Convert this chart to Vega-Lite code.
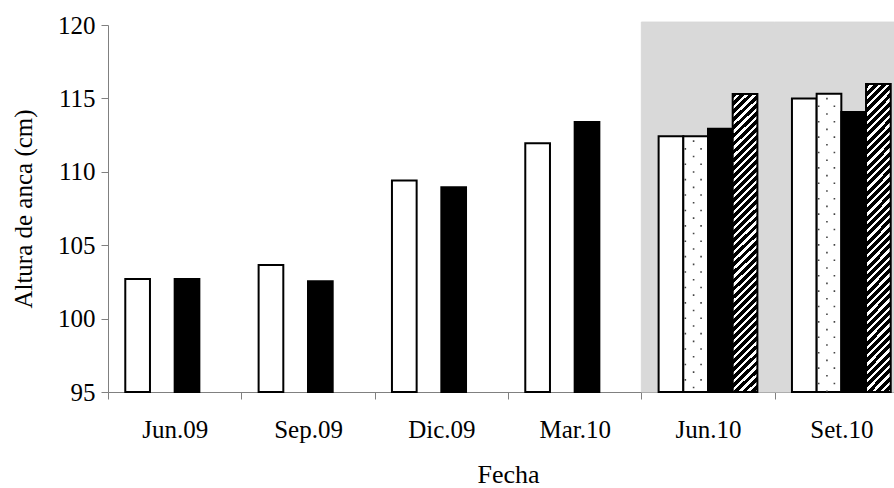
{
  "$schema": "https://vega.github.io/schema/vega-lite/v6.json",
  "width": 786,
  "height": 367,
  "autosize": {"type": "none"},
  "padding": {"left": 108, "top": 25, "right": 0, "bottom": 96},
  "background": "white",
  "config": {
    "view": {"stroke": null},
    "font": "Liberation Serif",
    "axis": {
      "labelFont": "Liberation Serif",
      "titleFont": "Liberation Serif",
      "labelColor": "#000",
      "titleColor": "#000",
      "titleFontWeight": "normal",
      "domainColor": "#808080",
      "tickColor": "#808080",
      "domainWidth": 1,
      "tickWidth": 1,
      "grid": false,
      "zindex": 1
    }
  },
  "datasets": {
    "altura": [
      {"fecha": "Jun.09", "serie": "Serie 1", "valor": 102.7},
      {"fecha": "Jun.09", "serie": "Serie 3", "valor": 102.7},
      {"fecha": "Sep.09", "serie": "Serie 1", "valor": 103.65},
      {"fecha": "Sep.09", "serie": "Serie 3", "valor": 102.55},
      {"fecha": "Dic.09", "serie": "Serie 1", "valor": 109.4},
      {"fecha": "Dic.09", "serie": "Serie 3", "valor": 108.95},
      {"fecha": "Mar.10", "serie": "Serie 1", "valor": 111.95},
      {"fecha": "Mar.10", "serie": "Serie 3", "valor": 113.4},
      {"fecha": "Jun.10", "serie": "Serie 1", "valor": 112.42},
      {"fecha": "Jun.10", "serie": "Serie 2", "valor": 112.42},
      {"fecha": "Jun.10", "serie": "Serie 3", "valor": 112.94},
      {"fecha": "Jun.10", "serie": "Serie 4", "valor": 115.3},
      {"fecha": "Set.10", "serie": "Serie 1", "valor": 115.0},
      {"fecha": "Set.10", "serie": "Serie 2", "valor": 115.32},
      {"fecha": "Set.10", "serie": "Serie 3", "valor": 114.08},
      {"fecha": "Set.10", "serie": "Serie 4", "valor": 115.98}
    ]
  },
  "data": {"name": "altura"},
  "encoding": {
    "x": {
      "field": "fecha",
      "type": "nominal",
      "sort": ["Jun.09", "Sep.09", "Dic.09", "Mar.10", "Jun.10", "Set.10"],
      "scale": {
        "domain": ["Jun.09", "Sep.09", "Dic.09", "Mar.10", "Jun.10", "Set.10"],
        "range": [0, 800],
        "paddingInner": 0,
        "paddingOuter": 0
      },
      "axis": {
        "title": "Fecha",
        "tickBand": "extent",
        "tickSize": 7,
        "labelPadding": 18,
        "labelAngle": 0,
        "labelFontSize": 25,
        "labelOverlap": false,
        "titleFontSize": 26,
        "titleX": 400,
        "titleY": 90,
        "titleAlign": "center",
        "titleBaseline": "alphabetic"
      }
    },
    "y": {
      "field": "valor",
      "type": "quantitative",
      "scale": {"domain": [95, 120], "nice": false, "zero": false},
      "axis": {
        "title": "Altura de anca (cm)",
        "values": [95, 100, 105, 110, 115, 120],
        "tickSize": 7,
        "labelPadding": 6,
        "labelFontSize": 25,
        "titleFontSize": 25,
        "titleAngle": -90,
        "titleX": -77,
        "titleY": 183.5,
        "titleAlign": "center",
        "titleBaseline": "alphabetic"
      }
    }
  },
  "layer": [
    {
      "transform": [
        {"filter": "datum.serie === 'Serie 1' && (datum.fecha === 'Jun.10' || datum.fecha === 'Set.10')"}
      ],
      "mark": {"type": "bar", "fill": "#d9d9d9", "stroke": "#d9d9d9", "strokeWidth": 1},
      "encoding": {
        "y": {"datum": 120.2, "type": "quantitative"},
        "y2": {"datum": 95}
      }
    },
    {
      "transform": [{"filter": "datum.serie !== 'Serie 4'"}],
      "mark": {"type": "bar", "stroke": "#000", "strokeWidth": 2},
      "encoding": {
        "xOffset": {
          "field": "serie",
          "type": "nominal",
          "scale": {
            "domain": ["Serie 1", "Serie 2", "Serie 3", "Serie 4"],
            "paddingInner": 0,
            "paddingOuter": 0.7
          }
        },
        "y2": {"datum": 95},
        "fill": {
          "field": "serie",
          "type": "nominal",
          "scale": {
            "domain": ["Serie 1", "Serie 2", "Serie 3", "Serie 4"],
            "range": ["#ffffff", "#ffffff", "#000000", "#000000"]
          },
          "legend": null
        }
      }
    },
    {
      "transform": [{"filter": "datum.serie === 'Serie 4'"}],
      "mark": {
        "type": "bar",
        "stroke": "#000",
        "strokeWidth": 2,
        "fill": {
          "gradient": "linear",
          "x1": 0, "y1": 0, "x2": 0.0876, "y2": 1.0744,
          "stops": [
            {"offset": 0, "color": "#000"}, {"offset": 0.015, "color": "#000"}, {"offset": 0.015, "color": "#fff"}, {"offset": 0.025, "color": "#fff"},
            {"offset": 0.025, "color": "#000"}, {"offset": 0.04, "color": "#000"}, {"offset": 0.04, "color": "#fff"}, {"offset": 0.05, "color": "#fff"},
            {"offset": 0.05, "color": "#000"}, {"offset": 0.065, "color": "#000"}, {"offset": 0.065, "color": "#fff"}, {"offset": 0.075, "color": "#fff"},
            {"offset": 0.075, "color": "#000"}, {"offset": 0.09, "color": "#000"}, {"offset": 0.09, "color": "#fff"}, {"offset": 0.1, "color": "#fff"},
            {"offset": 0.1, "color": "#000"}, {"offset": 0.115, "color": "#000"}, {"offset": 0.115, "color": "#fff"}, {"offset": 0.125, "color": "#fff"},
            {"offset": 0.125, "color": "#000"}, {"offset": 0.14, "color": "#000"}, {"offset": 0.14, "color": "#fff"}, {"offset": 0.15, "color": "#fff"},
            {"offset": 0.15, "color": "#000"}, {"offset": 0.165, "color": "#000"}, {"offset": 0.165, "color": "#fff"}, {"offset": 0.175, "color": "#fff"},
            {"offset": 0.175, "color": "#000"}, {"offset": 0.19, "color": "#000"}, {"offset": 0.19, "color": "#fff"}, {"offset": 0.2, "color": "#fff"},
            {"offset": 0.2, "color": "#000"}, {"offset": 0.215, "color": "#000"}, {"offset": 0.215, "color": "#fff"}, {"offset": 0.225, "color": "#fff"},
            {"offset": 0.225, "color": "#000"}, {"offset": 0.24, "color": "#000"}, {"offset": 0.24, "color": "#fff"}, {"offset": 0.25, "color": "#fff"},
            {"offset": 0.25, "color": "#000"}, {"offset": 0.265, "color": "#000"}, {"offset": 0.265, "color": "#fff"}, {"offset": 0.275, "color": "#fff"},
            {"offset": 0.275, "color": "#000"}, {"offset": 0.29, "color": "#000"}, {"offset": 0.29, "color": "#fff"}, {"offset": 0.3, "color": "#fff"},
            {"offset": 0.3, "color": "#000"}, {"offset": 0.315, "color": "#000"}, {"offset": 0.315, "color": "#fff"}, {"offset": 0.325, "color": "#fff"},
            {"offset": 0.325, "color": "#000"}, {"offset": 0.34, "color": "#000"}, {"offset": 0.34, "color": "#fff"}, {"offset": 0.35, "color": "#fff"},
            {"offset": 0.35, "color": "#000"}, {"offset": 0.365, "color": "#000"}, {"offset": 0.365, "color": "#fff"}, {"offset": 0.375, "color": "#fff"},
            {"offset": 0.375, "color": "#000"}, {"offset": 0.39, "color": "#000"}, {"offset": 0.39, "color": "#fff"}, {"offset": 0.4, "color": "#fff"},
            {"offset": 0.4, "color": "#000"}, {"offset": 0.415, "color": "#000"}, {"offset": 0.415, "color": "#fff"}, {"offset": 0.425, "color": "#fff"},
            {"offset": 0.425, "color": "#000"}, {"offset": 0.44, "color": "#000"}, {"offset": 0.44, "color": "#fff"}, {"offset": 0.45, "color": "#fff"},
            {"offset": 0.45, "color": "#000"}, {"offset": 0.465, "color": "#000"}, {"offset": 0.465, "color": "#fff"}, {"offset": 0.475, "color": "#fff"},
            {"offset": 0.475, "color": "#000"}, {"offset": 0.49, "color": "#000"}, {"offset": 0.49, "color": "#fff"}, {"offset": 0.5, "color": "#fff"},
            {"offset": 0.5, "color": "#000"}, {"offset": 0.515, "color": "#000"}, {"offset": 0.515, "color": "#fff"}, {"offset": 0.525, "color": "#fff"},
            {"offset": 0.525, "color": "#000"}, {"offset": 0.54, "color": "#000"}, {"offset": 0.54, "color": "#fff"}, {"offset": 0.55, "color": "#fff"},
            {"offset": 0.55, "color": "#000"}, {"offset": 0.565, "color": "#000"}, {"offset": 0.565, "color": "#fff"}, {"offset": 0.575, "color": "#fff"},
            {"offset": 0.575, "color": "#000"}, {"offset": 0.59, "color": "#000"}, {"offset": 0.59, "color": "#fff"}, {"offset": 0.6, "color": "#fff"},
            {"offset": 0.6, "color": "#000"}, {"offset": 0.615, "color": "#000"}, {"offset": 0.615, "color": "#fff"}, {"offset": 0.625, "color": "#fff"},
            {"offset": 0.625, "color": "#000"}, {"offset": 0.64, "color": "#000"}, {"offset": 0.64, "color": "#fff"}, {"offset": 0.65, "color": "#fff"},
            {"offset": 0.65, "color": "#000"}, {"offset": 0.665, "color": "#000"}, {"offset": 0.665, "color": "#fff"}, {"offset": 0.675, "color": "#fff"},
            {"offset": 0.675, "color": "#000"}, {"offset": 0.69, "color": "#000"}, {"offset": 0.69, "color": "#fff"}, {"offset": 0.7, "color": "#fff"},
            {"offset": 0.7, "color": "#000"}, {"offset": 0.715, "color": "#000"}, {"offset": 0.715, "color": "#fff"}, {"offset": 0.725, "color": "#fff"},
            {"offset": 0.725, "color": "#000"}, {"offset": 0.74, "color": "#000"}, {"offset": 0.74, "color": "#fff"}, {"offset": 0.75, "color": "#fff"},
            {"offset": 0.75, "color": "#000"}, {"offset": 0.765, "color": "#000"}, {"offset": 0.765, "color": "#fff"}, {"offset": 0.775, "color": "#fff"},
            {"offset": 0.775, "color": "#000"}, {"offset": 0.79, "color": "#000"}, {"offset": 0.79, "color": "#fff"}, {"offset": 0.8, "color": "#fff"},
            {"offset": 0.8, "color": "#000"}, {"offset": 0.815, "color": "#000"}, {"offset": 0.815, "color": "#fff"}, {"offset": 0.825, "color": "#fff"},
            {"offset": 0.825, "color": "#000"}, {"offset": 0.84, "color": "#000"}, {"offset": 0.84, "color": "#fff"}, {"offset": 0.85, "color": "#fff"},
            {"offset": 0.85, "color": "#000"}, {"offset": 0.865, "color": "#000"}, {"offset": 0.865, "color": "#fff"}, {"offset": 0.875, "color": "#fff"},
            {"offset": 0.875, "color": "#000"}, {"offset": 0.89, "color": "#000"}, {"offset": 0.89, "color": "#fff"}, {"offset": 0.9, "color": "#fff"},
            {"offset": 0.9, "color": "#000"}, {"offset": 0.915, "color": "#000"}, {"offset": 0.915, "color": "#fff"}, {"offset": 0.925, "color": "#fff"},
            {"offset": 0.925, "color": "#000"}, {"offset": 0.94, "color": "#000"}, {"offset": 0.94, "color": "#fff"}, {"offset": 0.95, "color": "#fff"},
            {"offset": 0.95, "color": "#000"}, {"offset": 0.965, "color": "#000"}, {"offset": 0.965, "color": "#fff"}, {"offset": 0.975, "color": "#fff"},
            {"offset": 0.975, "color": "#000"}, {"offset": 0.99, "color": "#000"}, {"offset": 0.99, "color": "#fff"}, {"offset": 1, "color": "#fff"}
          ]
        }
      },
      "encoding": {
        "xOffset": {
          "field": "serie",
          "type": "nominal",
          "scale": {
            "domain": ["Serie 1", "Serie 2", "Serie 3", "Serie 4"],
            "paddingInner": 0,
            "paddingOuter": 0.7
          }
        },
        "y2": {"datum": 95}
      }
    },
    {
      "transform": [{"filter": "datum.serie === 'Serie 2'"}],
      "mark": {"type": "rule", "stroke": "#444", "strokeWidth": 1.6, "strokeDash": [1.6, 13.8], "strokeDashOffset": 3.6},
      "encoding": {
        "x": {"field": "fecha", "type": "nominal", "bandPosition": 0.33},
        "y2": {"datum": 95}
      }
    },
    {
      "transform": [{"filter": "datum.serie === 'Serie 2'"}],
      "mark": {"type": "rule", "stroke": "#444", "strokeWidth": 1.6, "strokeDash": [1.6, 13.8], "strokeDashOffset": 11.3},
      "encoding": {
        "x": {"field": "fecha", "type": "nominal", "bandPosition": 0.392},
        "y2": {"datum": 95}
      }
    },
    {
      "transform": [{"filter": "datum.serie === 'Serie 2'"}],
      "mark": {"type": "rule", "stroke": "#444", "strokeWidth": 1.6, "strokeDash": [1.6, 13.8], "strokeDashOffset": 3.6},
      "encoding": {
        "x": {"field": "fecha", "type": "nominal", "bandPosition": 0.448},
        "y2": {"datum": 95}
      }
    }
  ]
}
